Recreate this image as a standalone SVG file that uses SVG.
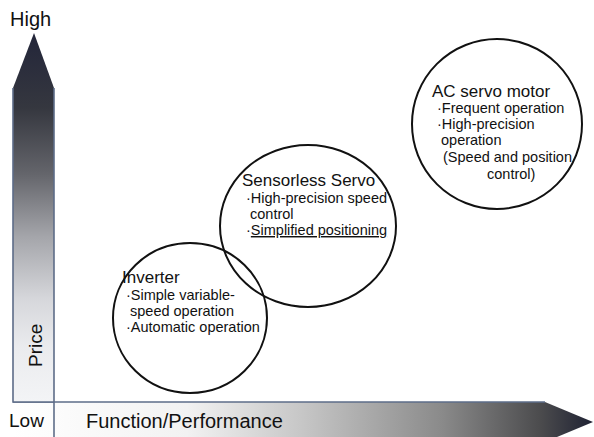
<svg xmlns="http://www.w3.org/2000/svg" width="594" height="437" viewBox="0 0 594 437">
  <defs>
    <linearGradient id="priceGrad" gradientUnits="userSpaceOnUse" x1="0" y1="34" x2="0" y2="402">
      <stop offset="0" stop-color="#23263a"/>
      <stop offset="0.2" stop-color="#35373f"/>
      <stop offset="0.38" stop-color="#64656b"/>
      <stop offset="0.55" stop-color="#a4a5aa"/>
      <stop offset="0.72" stop-color="#d6d7db"/>
      <stop offset="0.85" stop-color="#eaebee"/>
      <stop offset="1" stop-color="#f3f4f6"/>
    </linearGradient>
    <linearGradient id="funcGrad" gradientUnits="userSpaceOnUse" x1="13" y1="0" x2="593" y2="0">
      <stop offset="0" stop-color="#ffffff"/>
      <stop offset="0.3" stop-color="#f2f2f2"/>
      <stop offset="0.5" stop-color="#c6c6c6"/>
      <stop offset="0.74" stop-color="#8a8a8a"/>
      <stop offset="0.91" stop-color="#4b4b4d"/>
      <stop offset="1" stop-color="#1f2233"/>
    </linearGradient>
  </defs>
  <style>
    text { font-family: "Liberation Sans", Arial, sans-serif; fill: #111; }
    .axis { font-size: 19px; }
    .wide { font-size: 20px; }
    .title { font-size: 17px; }
    .item { font-size: 14.5px; }
    .edge { fill: none; stroke: #5d6c88; stroke-width: 1.6; }
    .bubble { fill: none; stroke: #111; stroke-width: 2; }
  </style>

  <rect width="594" height="437" fill="#ffffff"/>

  <!-- axes -->
  <g id="axes">
    <!-- horizontal axis: Function/Performance -->
    <polygon points="13,402 545,402 593,422 545,442 13,442" fill="url(#funcGrad)"/>
    <polyline class="edge" points="13,402 545,402"/>
    <!-- vertical axis: Price -->
    <polygon points="13,402 13,88 34,33 54,88 54,402" fill="url(#priceGrad)"/>
    <polyline class="edge" points="13,88 13,402 54,402"/>
    <line class="edge" x1="54" y1="88" x2="54" y2="437"/>
    <text class="wide" x="10" y="26">High</text>
    <text class="axis" x="9" y="427">Low</text>
    <text class="axis" transform="translate(42,367) rotate(-90)">Price</text>
    <text class="wide" x="86" y="428">Function/Performance</text>
  </g>

  <!-- product categories -->
  <g id="inverter">
    <ellipse class="bubble" cx="190" cy="318" rx="77" ry="75"/>
    <text class="title" x="122" y="283">Inverter</text>
    <text class="item" x="126" y="300">·Simple variable-</text>
    <text class="item" x="130" y="316">speed operation</text>
    <text class="item" x="126" y="332">·Automatic operation</text>
  </g>

  <g id="sensorless-servo">
    <ellipse class="bubble" cx="308" cy="226" rx="88" ry="81"/>
    <text class="title" x="242" y="186">Sensorless Servo</text>
    <text class="item" x="246" y="203">·High-precision speed</text>
    <text class="item" x="250" y="218.5">control</text>
    <text class="item" x="246" y="235">·<tspan text-decoration="underline">Simplified positioning</tspan></text>
  </g>

  <g id="ac-servo-motor">
    <ellipse class="bubble" cx="497" cy="124" rx="85" ry="85"/>
    <text class="title" x="432" y="97">AC servo motor</text>
    <text class="item" x="437" y="113">·Frequent operation</text>
    <text class="item" x="437" y="129">·High-precision</text>
    <text class="item" x="441" y="145">operation</text>
    <text class="item" x="443" y="162">(Speed and position</text>
    <text class="item" x="487" y="179">control)</text>
  </g>
</svg>
